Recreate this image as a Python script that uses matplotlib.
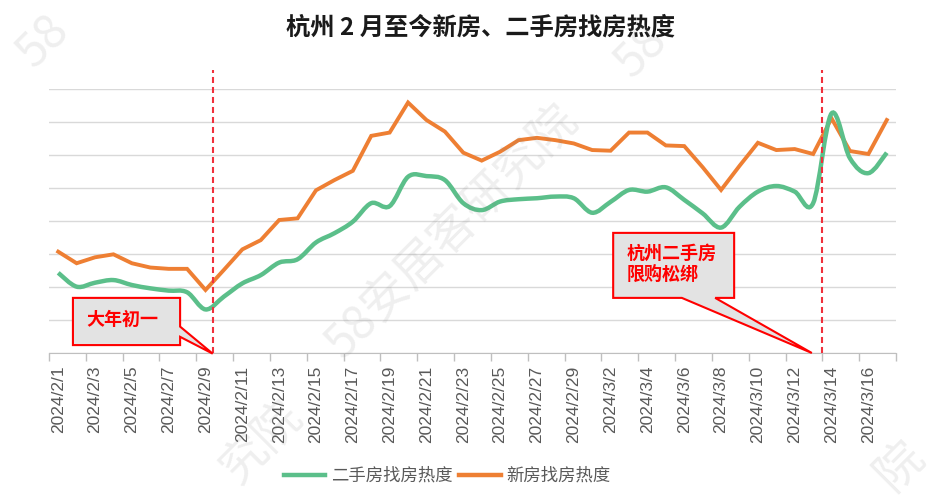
import numpy as np
import pandas as pd
import matplotlib
matplotlib.use("Agg")
import matplotlib.pyplot as plt
from matplotlib.path import Path
from matplotlib.patches import PathPatch, Polygon
from matplotlib.lines import Line2D

plt.rcParams['font.family'] = ['Noto Sans CJK SC', 'DejaVu Sans']

# categories: one per day, 2024/2/1 .. 2024/3/17
dates = [f"{d.year}/{d.month}/{d.day}" for d in pd.date_range("2024-02-01", "2024-03-17")]

# 二手房找房热度 (smoothed line)
second_hand = [2.43, 2.01, 2.13, 2.21, 2.06, 1.96, 1.89, 1.84, 1.32, 1.71,
               2.11, 2.36, 2.74, 2.84, 3.35, 3.63, 3.98, 4.54, 4.45, 5.34,
               5.36, 5.24, 4.54, 4.33, 4.59, 4.66, 4.69, 4.74, 4.69, 4.25,
               4.58, 4.94, 4.89, 5.02, 4.64, 4.23, 3.80, 4.43, 4.89, 5.06,
               4.89, 4.54, 7.26, 5.90, 5.45, 6.07]

# 新房找房热度
new_home = [3.07, 2.72, 2.90, 2.99, 2.72, 2.59, 2.55, 2.55, 1.91, 2.52,
            3.14, 3.42, 4.03, 4.08, 4.93, 5.24, 5.52, 6.58, 6.68, 7.59,
            7.06, 6.71, 6.07, 5.83, 6.10, 6.45, 6.52, 6.45, 6.35, 6.15,
            6.13, 6.68, 6.68, 6.29, 6.27, 5.63, 4.94, 5.67, 6.37, 6.15,
            6.18, 6.03, 7.11, 6.12, 6.03, 7.06]

labels = ["二手房找房热度", "新房找房热度"]
title = "杭州 2 月至今新房、二手房找房热度"

GREEN = "#5BBF8A"
ORANGE = "#EE7F33"
RED = "#F0303C"
GRAY_TXT = "#595959"


def smooth_path(xs, ys):
    # catmull-rom style bezier, like excel's "smoothed line"
    pts = np.column_stack([xs, ys]).astype(float)
    n = len(pts)
    verts = [pts[0]]
    codes = [Path.MOVETO]
    for i in range(n - 1):
        p0 = pts[max(i - 1, 0)]
        p1 = pts[i]
        p2 = pts[i + 1]
        p3 = pts[min(i + 2, n - 1)]
        verts += [p1 + (p2 - p0) / 6, p2 - (p3 - p1) / 6, p2]
        codes += [Path.CURVE4] * 3
    return Path(verts, codes)


fig = plt.figure(figsize=(9.41, 5), dpi=100)
fig.patch.set_facecolor("white")
ax = fig.add_axes([49 / 941, 147 / 500, 847 / 941, 264 / 500])

x = np.arange(len(dates))

ax.plot(x, new_home, color=ORANGE, lw=2.8, solid_joinstyle="miter", zorder=3)
ax.add_patch(PathPatch(smooth_path(x, second_hand), fill=False,
                       edgecolor=GREEN, lw=3.2, zorder=4))

ax.set_xlim(-0.5, len(dates) - 0.5)
ax.set_ylim(0, 8)
ax.set_yticks(range(0, 9))
ax.set_yticklabels([])
ax.tick_params(axis="y", length=0)
ax.grid(axis="y", color="#D9D9D9", lw=1.0)
ax.set_axisbelow(True)

# labels on every other category, ticks between categories
ax.set_xticks(x[::2])
ax.set_xticklabels(dates[::2], rotation=90, color=GRAY_TXT,
                   fontsize=12.5, family="Liberation Sans")
ax.tick_params(axis="x", which="major", length=0, pad=9)
ax.set_xticks(np.arange(-0.5, len(dates), 2), minor=True)
ax.tick_params(axis="x", which="minor", length=6, color="#BFBFBF", width=1)

for s in ["top", "right", "left"]:
    ax.spines[s].set_visible(False)
ax.spines["bottom"].set_color("#BFBFBF")

# event markers
for ev in [8.42, 41.5]:
    ax.plot([ev, ev], [0, 8.58], color=RED, lw=1.5, dashes=(2.9, 1.9),
            clip_on=False, zorder=5)

# callout 1: 大年初一
box1 = [(0.80, 0.24), (6.62, 0.24), (6.62, 0.49), (8.39, -0.02),
        (6.62, 0.80), (6.62, 1.67), (0.80, 1.67)]
ax.add_patch(Polygon(box1, closed=True, facecolor="#E3E3E3", edgecolor="#FF0000",
                     lw=1.5, clip_on=False, zorder=6))
ax.text(3.5, 1.02, "大年初一", color="#FF0000", fontsize=13, fontweight="bold",
        ha="center", va="center", zorder=7)

# callout 2: 限购松绑
box2 = [(30.14, 3.64), (36.71, 3.64), (36.71, 1.67), (35.68, 1.67),
        (40.93, 0.0), (33.87, 1.67), (30.14, 1.67)]
ax.add_patch(Polygon(box2, closed=True, facecolor="#E3E3E3", edgecolor="#FF0000",
                     lw=1.5, clip_on=False, zorder=6))
ax.text(33.3, 2.7, "杭州二手房\n限购松绑", color="#FF0000", fontsize=13,
        fontweight="bold", ha="center", va="center", multialignment="left",
        linespacing=1.2, zorder=7)

fig.text(481 / 941, 1 - 28 / 500, title, ha="center", va="center",
         fontsize=17.5, fontweight="bold", color="#1A1A1A")

handles = [Line2D([], [], color=GREEN, lw=3.2), Line2D([], [], color=ORANGE, lw=3.2)]
fig.legend(handles, labels, loc="center", bbox_to_anchor=(0.475, 0.048), ncol=2,
           frameon=False, fontsize=12.5, handlelength=2.4, handletextpad=0.3,
           columnspacing=0.4, labelcolor=GRAY_TXT)

# watermark (only the parts that show inside the frame)
watermarks = [((34, 70), "58"), ((632, 80), "58"), ((343, 360), "58安居客研究院"),
              ((237, 485), "究院"), ((892, 492), "院")]
for (px, py), txt in watermarks:
    fig.text(px / 941, 1 - py / 500, txt, rotation=45,
             rotation_mode="anchor", ha="left", va="baseline", fontsize=34,
             color="#808080", alpha=0.13, zorder=10)

fig.savefig("out.png", dpi=100, facecolor=fig.get_facecolor())
plt.close(fig)
